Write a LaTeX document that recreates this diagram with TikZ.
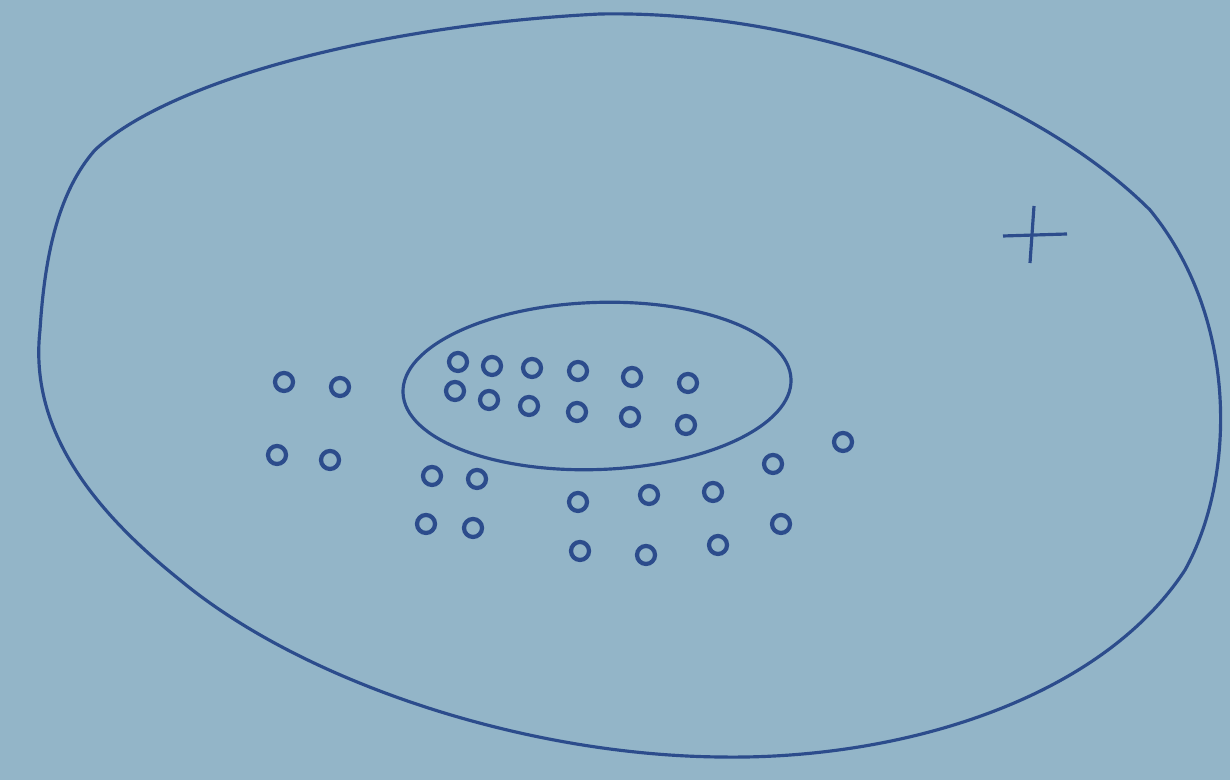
\documentclass[tikz,border=0pt]{standalone}
\usetikzlibrary{shapes.geometric}
\definecolor{paper}{HTML}{93B5C8}
\definecolor{ink}{HTML}{2C4C8C}
\begin{document}
\begin{tikzpicture}[x=0.01cm,y=-0.01cm,
  line width=0.9pt, ink,
  dot/.style={circle,draw=ink,line width=1.2pt,minimum size=0.18cm,inner sep=0pt}]
  % paper
  \useasboundingbox (0,0) rectangle (1230,780);
  \fill[paper] (0,0) rectangle (1230,780);
  % outer body
  \draw (95,150) .. controls (170,80) and (380,25) .. (600,14)
    .. controls (820,10) and (1040,100) .. (1150,210)
    .. controls (1240,320) and (1235,480) .. (1185,570)
    .. controls (1100,700) and (900,760) .. (720,757)
    .. controls (520,755) and (300,680) .. (180,580)
    .. controls (80,500) and (30,420) .. (40,330)
    .. controls (45,250) and (60,190) .. (95,150) -- cycle;
  % inner ellipse
  \node[draw=ink,ellipse,minimum width=3.88cm,minimum height=1.67cm,line width=0.9pt,
    rotate=2] (core) at (597,386) {};
  % plus sign
  \coordinate (pl) at (1003,236);
  \coordinate (pr) at (1067,234);
  \coordinate (pt) at (1034,206);
  \coordinate (pb) at (1030,263);
  \draw (pl) -- (pr);
  \draw (pt) -- (pb);
  % dots inside the ellipse
  \foreach \x/\y [count=\i] in {458/362,492/366,532/368,578/371,632/377,688/383,
      455/391,489/400,529/406,577/412,630/417,686/425}
    \node[dot] (in\i) at (\x,\y) {};
  % dots outside
  \foreach \x/\y [count=\i] in {284/382,340/387,277/455,330/460,432/476,477/479,
      426/524,473/528,578/502,649/495,713/492,773/464,843/442,580/551,646/555,
      718/545,781/524}
    \node[dot] (out\i) at (\x,\y) {};
\end{tikzpicture}
\end{document}
